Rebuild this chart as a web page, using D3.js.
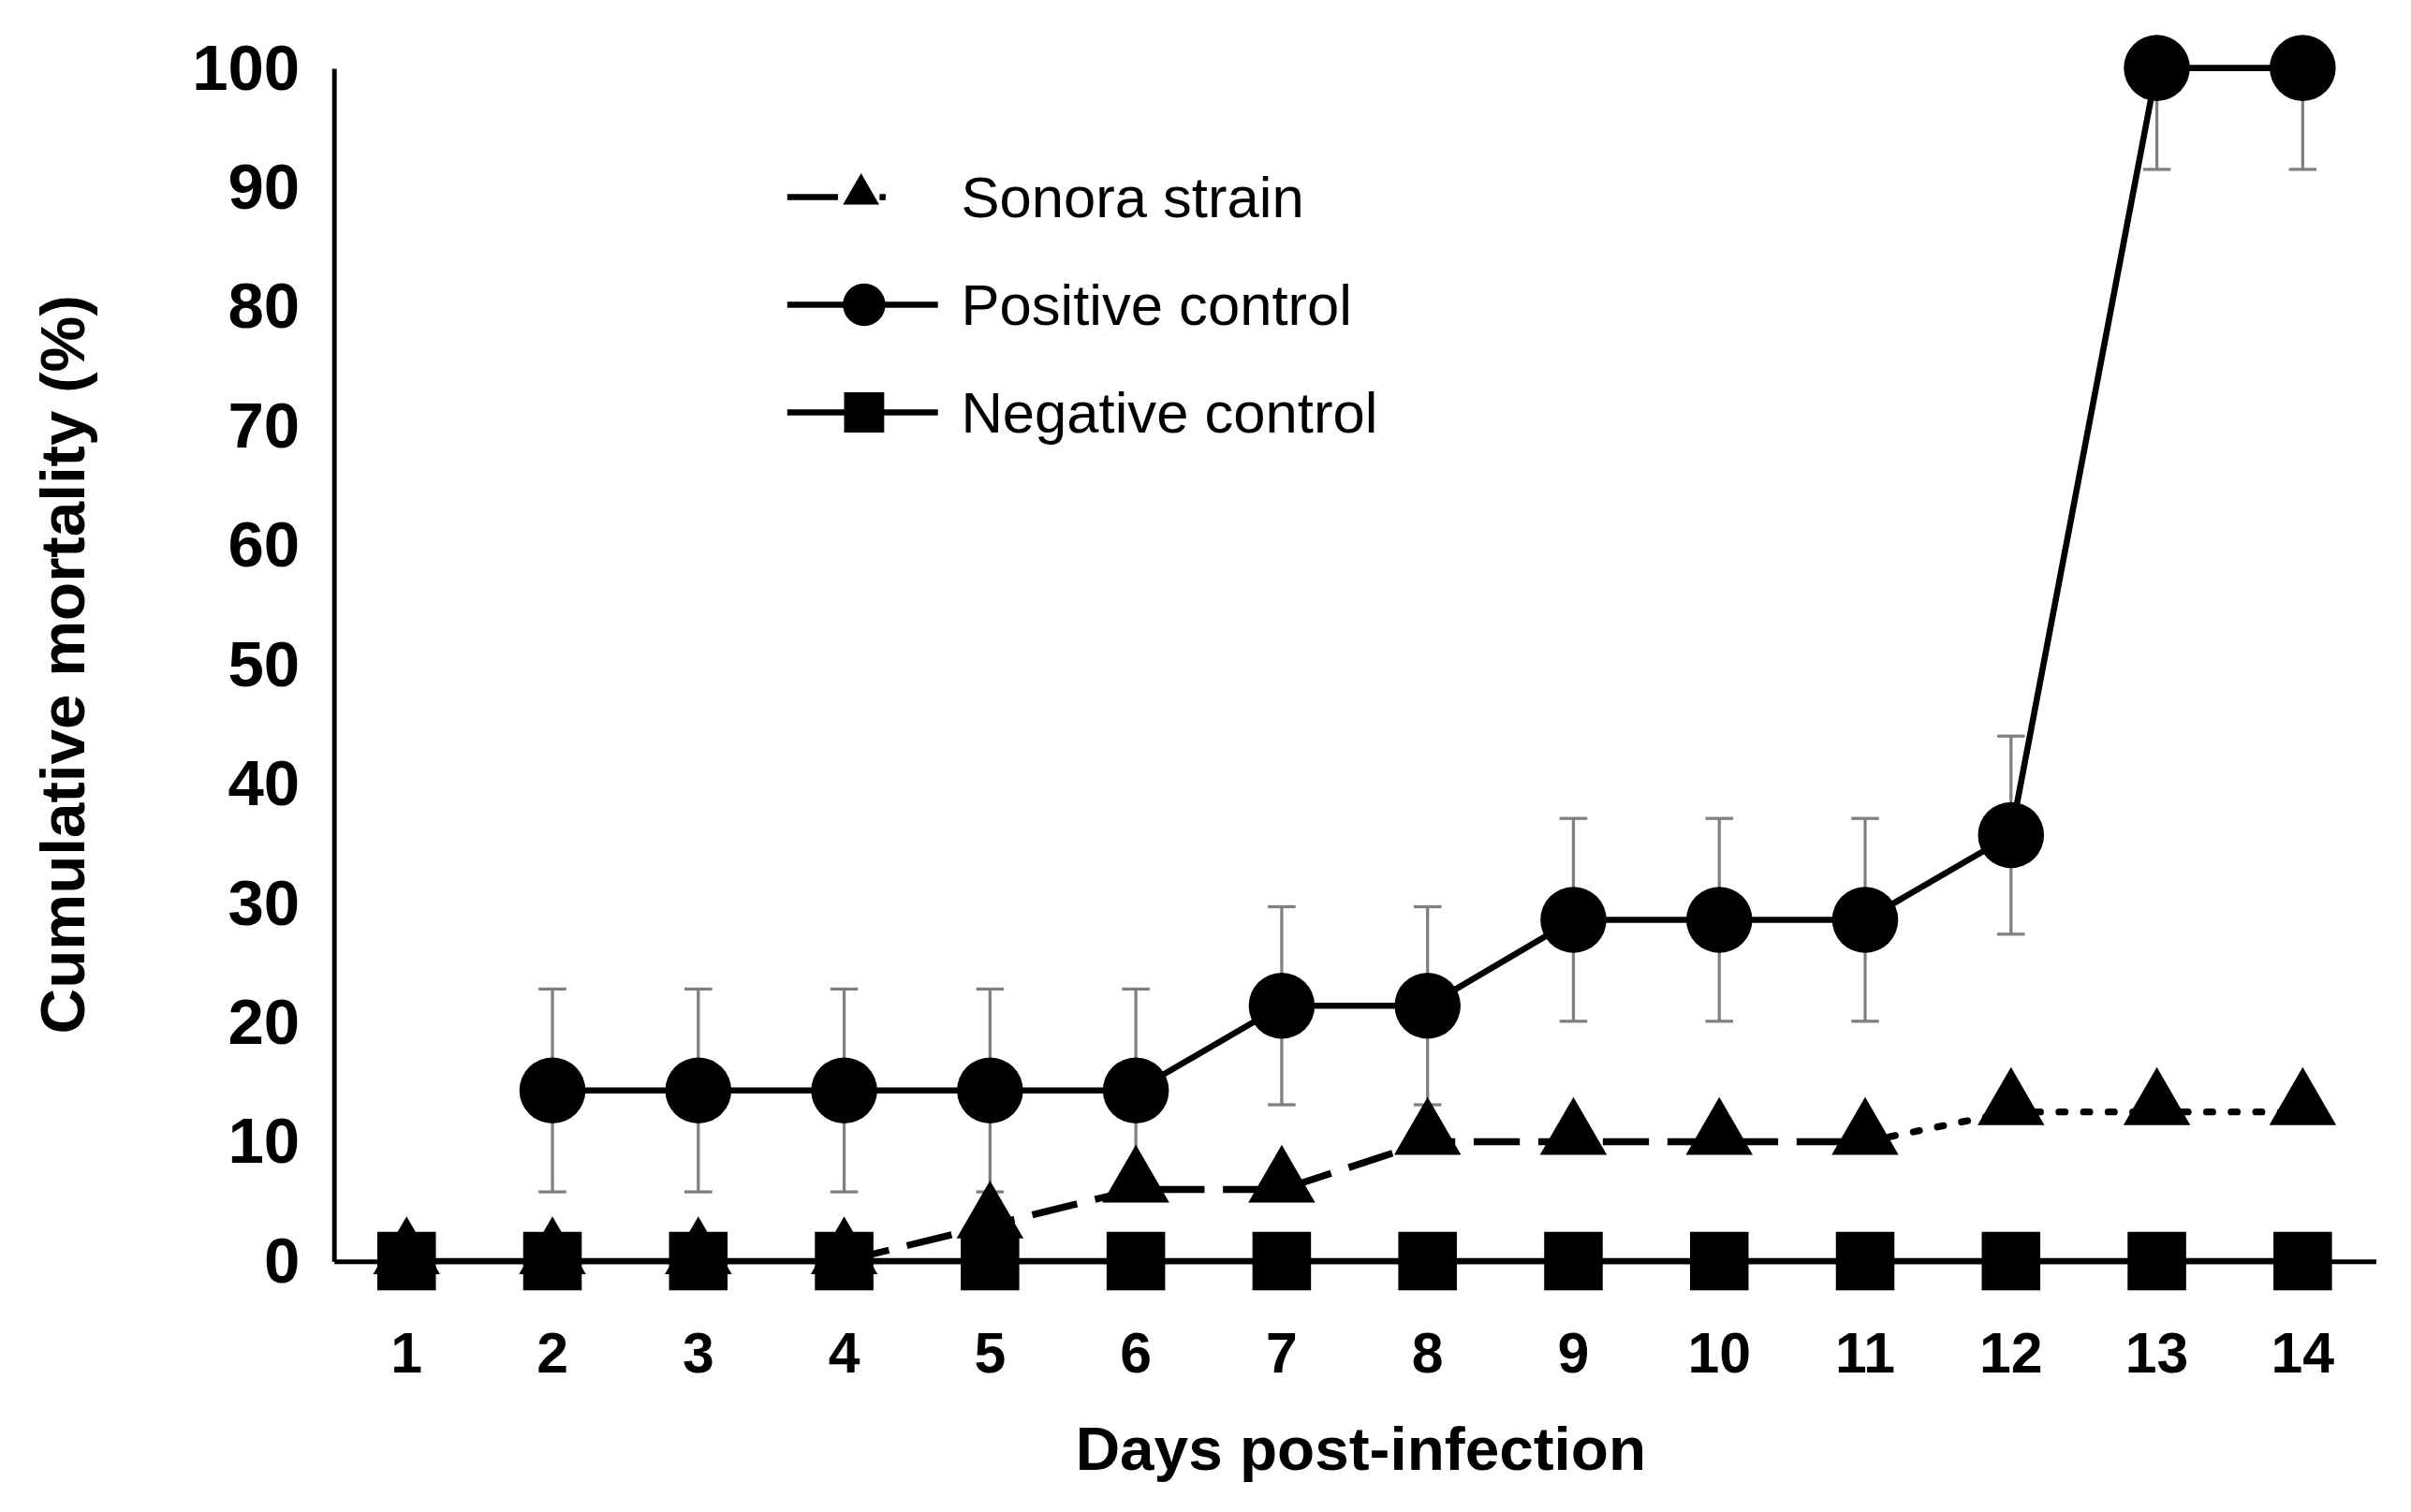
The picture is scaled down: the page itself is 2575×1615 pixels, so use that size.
<!DOCTYPE html>
<html><head><meta charset="utf-8">
<script src="https://cdn.jsdelivr.net/npm/d3@7"></script>
<style>body{margin:0;background:#fff}</style></head>
<body><svg id="c" width="2575" height="1615" viewBox="0 0 1568 983"></svg>
<script>
const days = [1,2,3,4,5,6,7,8,9,10,11,12,13,14];
const sonora = [0,0,0,0,3,6,6,10,10,10,10,12.5,12.5,12.5];
const positive = [null,14.3,14.3,14.3,14.3,14.3,21.4,21.4,28.6,28.6,28.6,35.7,100,100];
const positiveErr = [null,8.5,8.5,8.5,8.5,8.5,8.3,8.3,8.5,8.5,8.5,8.3,8.5,8.5];
const negative = [0,0,0,0,0,0,0,0,0,0,0,0,0,0];
const yTicks = [0,10,20,30,40,50,60,70,80,90,100];
const legendNames = ["Sonora strain","Positive control","Negative control"];

const svg = d3.select("#c");
const F = "Liberation Sans, Arial, sans-serif";
const x = d3.scaleBand().domain(days).range([217,1545]);
const cx = d => x(d)+x.bandwidth()/2;
const y = d3.scaleLinear().domain([0,100]).range([820,44]);

const ya = svg.append("g").attr("transform","translate(217,0)")
  .call(d3.axisLeft(y).tickValues(yTicks).tickSize(0).tickPadding(22));
ya.select(".domain").attr("stroke","#000").attr("stroke-width",3);
ya.selectAll("text").attr("font-family",F).attr("font-weight","bold").attr("font-size",42).attr("fill","#000");
const xa = svg.append("g").attr("transform","translate(0,820)")
  .call(d3.axisBottom(x).tickSize(0).tickPadding(46));
xa.select(".domain").attr("stroke","#000").attr("stroke-width",3);
xa.selectAll("text").attr("font-family",F).attr("font-weight","bold").attr("font-size",37).attr("fill","#000");

svg.append("text").attr("x",885).attr("y",956).attr("text-anchor","middle")
  .attr("font-family",F).attr("font-weight","bold").attr("font-size",40).text("Days post-infection");
svg.append("text").attr("transform","translate(55,432) rotate(-90)").attr("text-anchor","middle")
  .attr("font-family",F).attr("font-weight","bold").attr("font-size",41).text("Cumulative mortality (%)");

days.forEach((d,i)=>{
  if(positive[i]==null) return;
  const e=positiveErr[i], hi=Math.min(positive[i]+e,100);
  const g=svg.append("g").attr("stroke","#808080").attr("stroke-width",2);
  g.append("line").attr("x1",cx(d)).attr("x2",cx(d)).attr("y1",y(hi)).attr("y2",y(positive[i]-e));
  if(positive[i]+e<=100) g.append("line").attr("x1",cx(d)-9).attr("x2",cx(d)+9).attr("y1",y(hi)).attr("y2",y(hi));
  g.append("line").attr("x1",cx(d)-9).attr("x2",cx(d)+9).attr("y1",y(positive[i]-e)).attr("y2",y(positive[i]-e));
});

const line = d3.line().defined(d=>d[1]!=null).x(d=>cx(d[0])).y(d=>y(d[1]));
const sPts = days.map((d,i)=>[d,sonora[i]]);
svg.append("path").attr("d",line(sPts.slice(3,11))).attr("fill","none").attr("stroke","#000").attr("stroke-width",4.5).attr("stroke-dasharray","30,12");
svg.append("path").attr("d",line(sPts.slice(10))).attr("fill","none").attr("stroke","#000").attr("stroke-width",4.5).attr("stroke-dasharray","4,12").attr("stroke-linecap","round");
svg.append("path").attr("d",line(days.map((d,i)=>[d,positive[i]]))).attr("fill","none").attr("stroke","#000").attr("stroke-width",4);
svg.append("path").attr("d",line(days.map((d,i)=>[d,negative[i]]))).attr("fill","none").attr("stroke","#000").attr("stroke-width",4);

const tri = d3.symbol().type(d3.symbolTriangle).size(820);
const sq = d3.symbol().type(d3.symbolSquare).size(1450);
const ci = d3.symbol().type(d3.symbolCircle).size(1450);
days.forEach((d,i)=>{
  svg.append("path").attr("d",tri()).attr("transform",`translate(${cx(d)},${y(sonora[i])-4})`);
  svg.append("path").attr("d",sq()).attr("transform",`translate(${cx(d)},${y(negative[i])})`);
  if(positive[i]!=null) svg.append("path").attr("d",ci()).attr("transform",`translate(${cx(d)},${y(positive[i])})`);
});

const ly=[128,198,268];
svg.append("line").attr("x1",512).attr("x2",545).attr("y1",ly[0]).attr("y2",ly[0]).attr("stroke","#000").attr("stroke-width",4);
svg.append("line").attr("x1",572).attr("x2",582).attr("y1",ly[0]).attr("y2",ly[0]).attr("stroke","#000").attr("stroke-width",4).attr("stroke-dasharray","4,6");
svg.append("path").attr("d",d3.symbol().type(d3.symbolTriangle).size(240)()).attr("transform",`translate(560,${ly[0]-2})`);
[1,2].forEach(k=>svg.append("line").attr("x1",512).attr("x2",610).attr("y1",ly[k]).attr("y2",ly[k]).attr("stroke","#000").attr("stroke-width",4));
svg.append("path").attr("d",d3.symbol().type(d3.symbolCircle).size(600)()).attr("transform",`translate(562,${ly[1]})`);
svg.append("path").attr("d",d3.symbol().type(d3.symbolSquare).size(680)()).attr("transform",`translate(562,${ly[2]})`);
legendNames.forEach((n,k)=>svg.append("text").attr("x",625).attr("y",ly[k]+13).attr("font-family",F).attr("font-size",37.5).text(n));
</script></body></html>
